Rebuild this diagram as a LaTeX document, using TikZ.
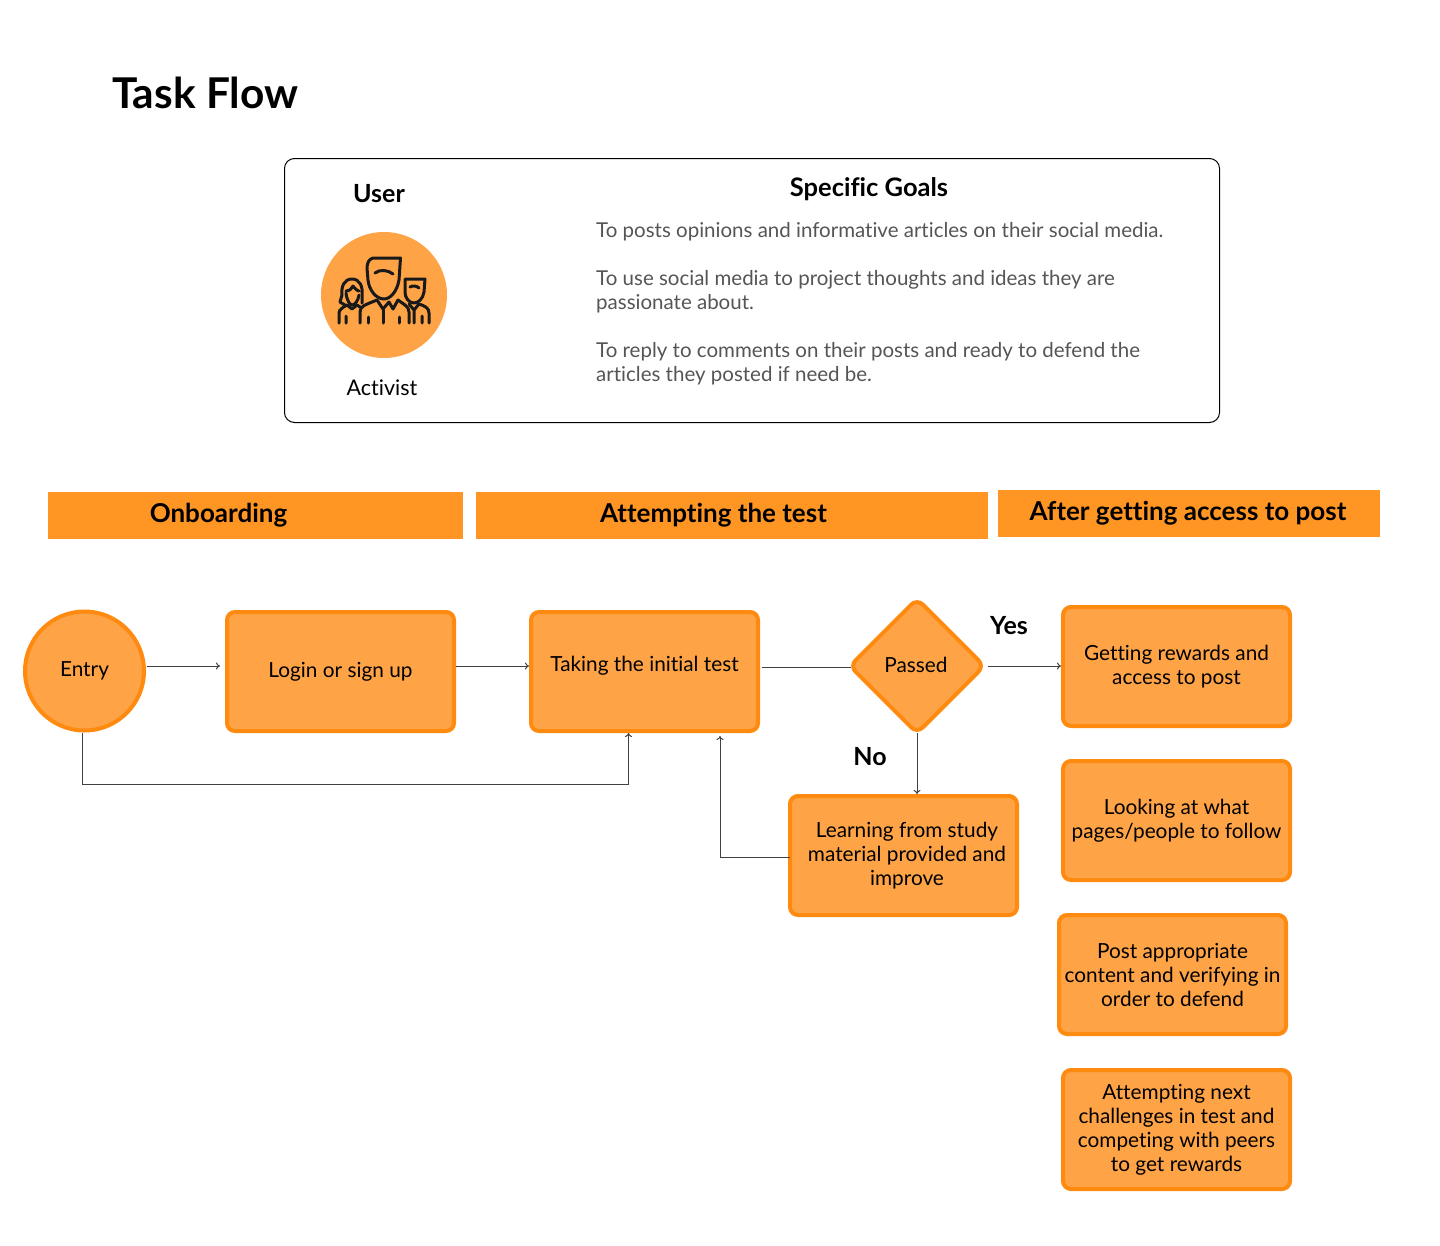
\documentclass[tikz,border=0pt]{standalone}
\usepackage{fontspec}
\setmainfont[Ligatures=NoCommon]{Lato}
\usetikzlibrary{shapes.geometric,arrows.meta}
\definecolor{flowfill}{HTML}{FFA347}
\definecolor{flowline}{HTML}{FF8A10}
\definecolor{bandfill}{HTML}{FF9523}
\definecolor{goaltext}{HTML}{555555}
\tikzstyle{flowbox} = [draw=flowline, fill=flowfill, line width=4pt, rectangle,
    rounded corners=8pt, minimum width=227pt, minimum height=119pt, align=center,
    inner sep=0pt, font=\fontsize{20.8}{24}\selectfont]
\tikzstyle{bandbox} = [fill=bandfill, rectangle, minimum height=47pt, inner sep=0pt]
\tikzstyle{bandtext} = [inner sep=0pt, font=\fontsize{26}{30}\selectfont\bfseries]
\tikzstyle{flowtext} = [align=center, inner sep=0pt, font=\fontsize{20.8}{24}\selectfont]
\tikzstyle{boldtext} = [inner sep=0pt, font=\fontsize{25}{30}\selectfont\bfseries]
\tikzstyle{goaltext} = [anchor=north west, inner sep=0pt, align=left, text=goaltext,
    font=\fontsize{20.5}{24}\selectfont]
\tikzstyle{flowarrow} = [-{To[length=4pt,width=7pt]}, line width=1pt, color=black!75]
\tikzstyle{iconline} = [line width=3pt, line cap=round, line join=round, color=black!90]

\begin{document}
\begin{tikzpicture}[x=1pt, y=-1pt]
\useasboundingbox (0,0) rectangle (1440,1245);

\node[anchor=west, inner sep=0pt, font=\fontsize{42.4}{50}\selectfont\bfseries] (title) at (112,93) {Task Flow};

% goals card
\node[draw=black, rectangle, rounded corners=10pt, line width=1pt, minimum width=935pt, minimum height=264pt, inner sep=0pt] (card) at (752,290.5) {};
\node[boldtext] (user) at (379,194) {User};
\node[fill=flowfill, circle, minimum size=126pt, inner sep=0pt] (avatar) at (384,295) {};
\node[flowtext, font=\fontsize{21.5}{24}\selectfont] (activist) at (382,388) {Activist};
\node[boldtext, font=\fontsize{25.5}{30}\selectfont\bfseries] (goals) at (869,189) {Specific Goals};
\node[goaltext] (goalone) at (596,222) {To posts opinions and informative articles on their social media.};
\node[goaltext] (goaltwo) at (596,270) {To use social media to project thoughts and ideas they are\\passionate about.};
\node[goaltext] (goalthree) at (596,342) {To reply to comments on their posts and ready to defend the\\articles they posted if need be.};

% people icon
\draw[iconline] (373,258) -- (400.5,258) -- (399,280) .. controls (397,292) and (390,299) .. (384,299) .. controls (376,299) and (369,290) .. (368,280) -- (367,268) .. controls (367,263) and (369,259) .. (373,258);
\draw[iconline] (375,273) .. controls (380,269) and (388,270) .. (393,274);
\draw[iconline] (360,323) -- (360,312) .. controls (360,306) and (365,305) .. (377,300) -- (383,309) -- (389,302) -- (393,309) -- (398,300) .. controls (403,304) and (409,306) .. (409,312) -- (409,323);
\draw[iconline] (368,317) -- (368,323) (383,310) -- (383,323) (399,317) -- (399,323);
\draw[iconline] (352,279) .. controls (344,279) and (341,287) .. (342,295) -- (340,302) -- (345,305) (352,279) .. controls (360,279) and (363,287) .. (362,295) -- (362,303) (346,291) .. controls (350,291) and (352,288) .. (353,286) .. controls (355,289) and (358,291) .. (359,291);
\draw[iconline] (346,293) .. controls (347,301) and (350,305) .. (352,305) .. controls (355,305) and (358,301) .. (359,295);
\draw[iconline] (339,323) -- (339,313) .. controls (339,309) and (344,307) .. (347,305) -- (352,309) -- (357,305) -- (360,307) (346,316) -- (346,323);
\draw[iconline] (405,279) -- (425,279) -- (424,292) .. controls (423,299) and (418,303) .. (414,303) .. controls (409,303) and (405,298) .. (405,292) -- cycle (410,287) .. controls (413,285) and (417,286) .. (419,288);
\draw[iconline] (409,304) -- (414,310) -- (419,304) .. controls (425,306) and (429,308) .. (429,313) -- (429,323) (414,310) -- (414,323) (422,316) -- (422,323);

% phase bands
\node[bandbox, minimum width=415pt] (onboarding) at (255.5,515.5) {};
\node[bandtext] (onboardingtext) at (218.5,515) {Onboarding};
\node[bandbox, minimum width=512pt] (attempting) at (732,515.5) {};
\node[bandtext] (attemptingtext) at (713.5,515) {Attempting the test};
\node[bandbox, minimum width=382pt] (access) at (1189,513.5) {};
\node[bandtext] (accesstext) at (1188,513) {After getting access to post};

% flow
\node[draw=flowline, fill=flowfill, line width=4pt, circle, minimum size=119pt, inner sep=0pt] (entry) at (84.5,671) {};
\node[flowtext] (entrytext) at (84.5,671) {Entry};
\node[flowbox] (login) at (340.5,671.5) {Login or sign up};
\node[flowbox] (test) at (644.5,671.5) {};
\node[flowtext] (testtext) at (644.5,666) {Taking the initial test};
\node[draw=flowline, fill=flowfill, line width=4pt, diamond, rounded corners=8pt, minimum width=136pt, minimum height=136pt, inner sep=0pt] (passed) at (917,666) {};
\node[flowtext] (passedtext) at (916,665) {Passed};
\node[flowbox] (learn) at (903.5,855.5) {};
\node[flowtext] (learntext) at (907,855.5) {Learning from study\\material provided and\\improve};
\node[flowbox] (rewards) at (1176.5,666.5) {Getting rewards and\\access to post};
\node[flowbox] (follow) at (1176.5,820.5) {Looking at what\\pages/people to follow};
\node[flowbox] (post) at (1172.5,974.5) {Post appropriate\\content and verifying in\\order to defend};
\node[flowbox] (next) at (1176.5,1129.5) {Attempting next\\challenges in test and\\competing with peers\\to get rewards};
\node[boldtext] (yes) at (1009,626) {Yes};
\node[boldtext] (no) at (870,757) {No};

\draw[flowarrow] ([xshift=1pt, yshift=5pt]entry.east) -- ([xshift=-5pt, yshift=5.5pt]login.west);
\draw[flowarrow] ([yshift=5.5pt]login.east) -- ([yshift=5.5pt]test.west);
\draw[flowarrow, -] ([xshift=2pt, yshift=4.5pt]test.east) -- ([xshift=4pt, yshift=-1pt]passed.west);
\draw[flowarrow] ([xshift=1pt]passed.east) -- (passed.east -| rewards.west);
\draw[flowarrow] ([yshift=3pt]passed.south) -- (passed.south |- learn.north);
\draw[flowarrow] ([xshift=-2.5pt]entry.south) -- ++(0,52) -| ([xshift=-16pt]test.south);
\draw[flowarrow] ([xshift=2pt, yshift=-1.5pt]learn.west) -| ([xshift=75.5pt, yshift=-3pt]test.south);
\end{tikzpicture}
\end{document}
